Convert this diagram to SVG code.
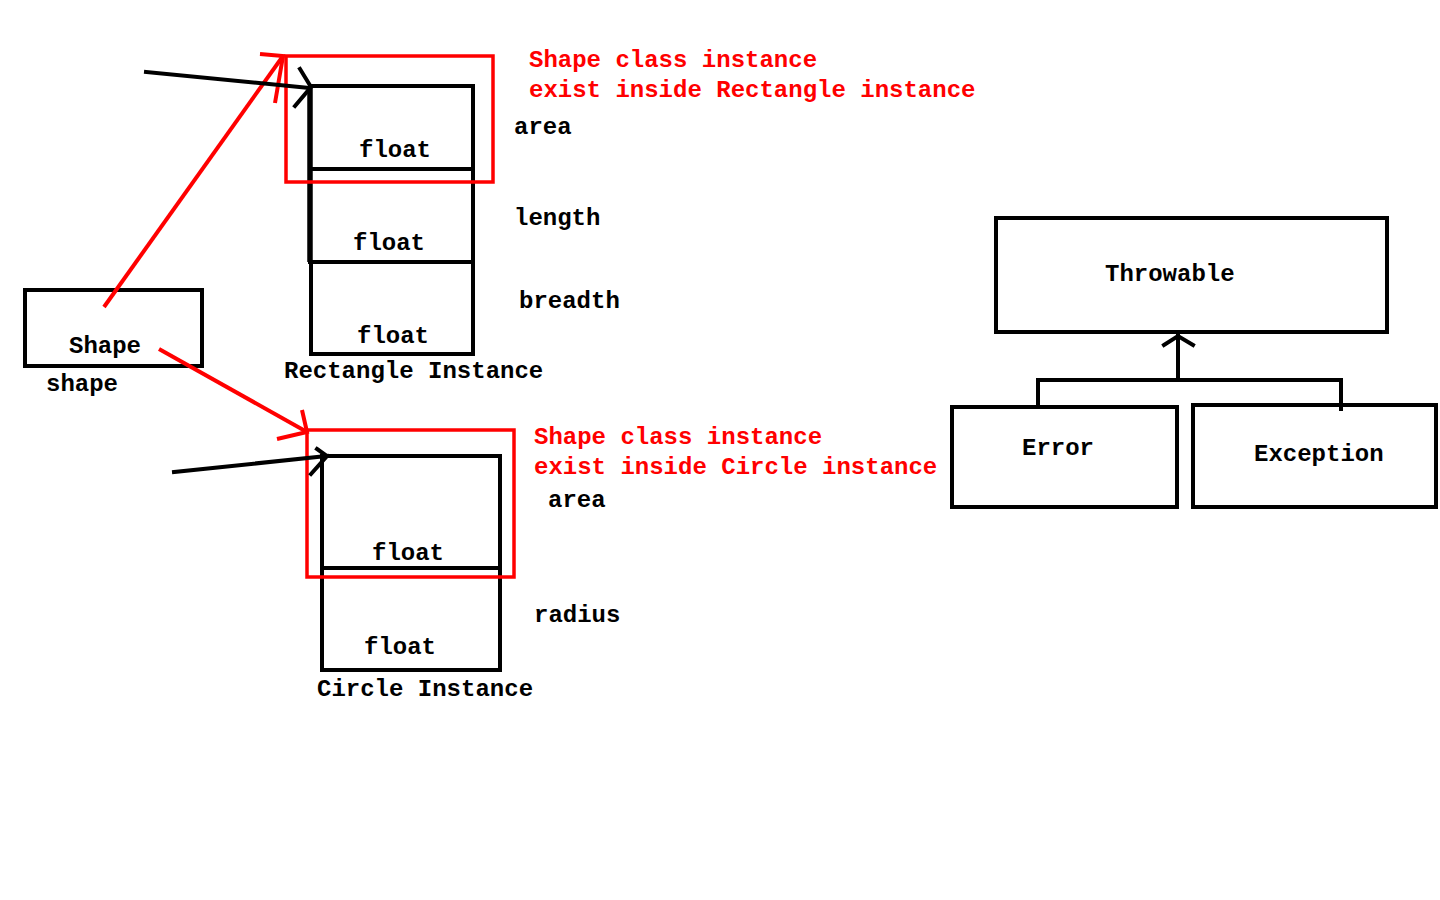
<svg xmlns="http://www.w3.org/2000/svg" width="1440" height="900" viewBox="0 0 1440 900">
<style>
text{font-family:"Liberation Mono","Courier New",monospace;font-weight:bold;font-size:24px;fill:#000}
text.r{fill:#ff0000}
.box{fill:none;stroke:#000;stroke-width:4}
.rbox{fill:none;stroke:#ff0000;stroke-width:3.5}
.bl{fill:none;stroke:#000;stroke-width:4;stroke-linecap:square}
.rl{fill:none;stroke:#ff0000;stroke-width:4}
</style>
<rect width="1440" height="900" fill="#fff"/>
<g id="shape-ref">
<rect class="box" x="25" y="290" width="177" height="76"/>
<text x="69" y="353">Shape</text>
<text x="46" y="391">shape</text>
</g>
<g id="rectangle-instance">
<rect class="box" x="310" y="86" width="163" height="83"/>
<line x1="310" y1="86" x2="310" y2="169" stroke="#000" stroke-width="5.5"/>
<rect class="box" x="310" y="169" width="163" height="93"/>
<line x1="310" y1="169" x2="310" y2="262" stroke="#000" stroke-width="5.5"/>
<rect class="box" x="311" y="262" width="162" height="92"/>
<text x="359" y="157">float</text>
<text x="353" y="250">float</text>
<text x="357" y="343">float</text>
<text x="514" y="134">area</text>
<text x="514" y="225">length</text>
<text x="519" y="308">breadth</text>
<text x="284" y="378">Rectangle Instance</text>
</g>
<g id="rectangle-shape-part">
<rect class="rbox" x="286" y="56" width="207" height="126"/>
<text class="r" x="529" y="67">Shape class instance</text>
<text class="r" x="529" y="97">exist inside Rectangle instance</text>
</g>
<g id="circle-instance">
<rect class="box" x="322" y="456" width="178" height="112"/>
<rect class="box" x="322" y="568" width="178" height="102"/>
<text x="372" y="560">float</text>
<text x="364" y="654">float</text>
<text x="548" y="507">area</text>
<text x="534" y="622">radius</text>
<text x="317" y="696">Circle Instance</text>
</g>
<g id="circle-shape-part">
<rect class="rbox" x="307" y="430" width="207" height="147"/>
<text class="r" x="534" y="444">Shape class instance</text>
<text class="r" x="534" y="474">exist inside Circle instance</text>
</g>
<g id="throwable">
<rect class="box" x="996" y="218" width="391" height="114"/>
<text x="1105" y="281">Throwable</text>
</g>
<g id="error">
<rect class="box" x="952" y="407" width="225" height="100"/>
<text x="1022" y="455">Error</text>
</g>
<g id="exception">
<rect class="box" x="1193" y="405" width="243" height="102"/>
<text x="1254" y="461">Exception</text>
</g>
<g id="connectors">
<line class="rl" x1="104" y1="307" x2="283" y2="56"/>
<polyline class="rl" points="260,54 283,56 275,103"/>
<line class="bl" x1="146" y1="72" x2="310" y2="88"/>
<polyline class="bl" points="300,69 311,87 295,106"/>
<line class="rl" x1="159" y1="349" x2="307" y2="432"/>
<polyline class="rl" points="302,410 307,432 277,439"/>
<line class="bl" x1="174" y1="472" x2="327" y2="456"/>
<polyline class="bl" points="317,449 327,456 311,474"/>
<line class="bl" x1="1178" y1="380" x2="1178" y2="336"/>
<polyline class="bl" points="1164,345 1178,336 1193,345"/>
<polyline class="bl" points="1038,406 1038,380 1341,380 1341,409"/>
</g>
</svg>
